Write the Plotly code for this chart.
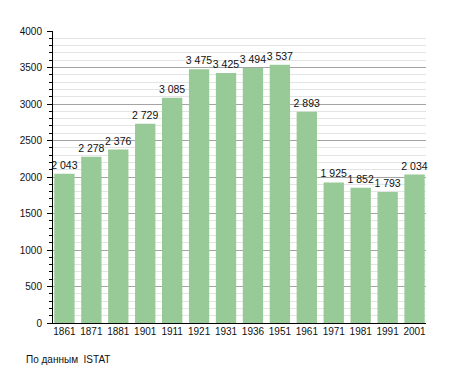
import plotly.graph_objects as go

years = ["1861", "1871", "1881", "1901", "1911", "1921", "1931", "1936",
         "1951", "1961", "1971", "1981", "1991", "2001"]
population = [2043, 2278, 2376, 2729, 3085, 3475, 3425, 3494,
              3537, 2893, 1925, 1852, 1793, 2034]
bar_labels = [f"{v:,}".replace(",", "\u00a0") for v in population]
y_ticks = [0, 500, 1000, 1500, 2000, 2500, 3000, 3500, 4000]
source_text = "По данным  ISTAT"

font_family = "Liberation Sans, Arial, sans-serif"

fig = go.Figure(go.Bar(
    x=list(range(len(years))),
    y=population,
    text=bar_labels,
    textposition="outside",
    constraintext="none",
    textfont=dict(size=10.5, color="#111111", family=font_family),
    cliponaxis=False,
    marker=dict(color="#98CA97", line=dict(width=0)),
    hoverinfo="skip",
))

# The page body adds an 8px offset, so margins are reduced by 8px.
fig.update_layout(
    width=447, height=365,
    margin=dict(l=42, r=29, t=23, b=50, pad=0),
    paper_bgcolor="white", plot_bgcolor="white",
    bargap=0.245,
    showlegend=False,
    font=dict(family=font_family, size=10, color="#111111"),
    xaxis=dict(
        range=[-0.424, 13.425],
        tickmode="array",
        tickvals=list(range(len(years))),
        ticktext=years,
        showgrid=False,
        zeroline=False,
        showline=True, linecolor="black", linewidth=1,
        ticks="",
        ticklabelstandoff=-1,
        tickfont=dict(size=10),
        fixedrange=True,
    ),
    yaxis=dict(
        range=[0, 4000],
        tickmode="array",
        tickvals=y_ticks,
        showgrid=True, gridcolor="#a4a4a4", gridwidth=1,
        zeroline=False,
        showline=True, linecolor="black", linewidth=1,
        ticks="outside", ticklen=5, tickcolor="black",
        ticklabelstandoff=3,
        tickfont=dict(size=10),
        minor=dict(dtick=100, showgrid=True, gridcolor="#e4e4e4",
                   ticks="outside", ticklen=3, tickcolor="black"),
        fixedrange=True,
    ),
    annotations=[dict(
        text=source_text, xref="paper", yref="paper",
        x=-0.0771, y=-0.1257, xanchor="left", yanchor="middle",
        showarrow=False, font=dict(size=10, color="#111111"),
    )],
)

fig.write_html("out.html")
